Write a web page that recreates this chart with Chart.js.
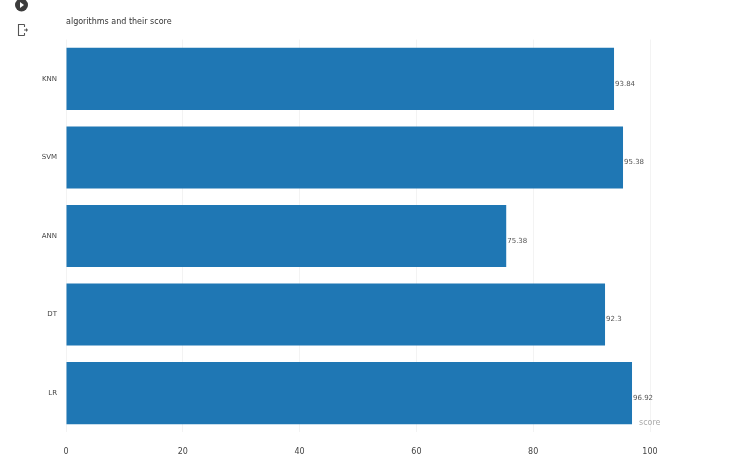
<!DOCTYPE html>
<html>
<head>
<meta charset="utf-8">
<title>algorithms and their score</title>
<script src="https://cdn.jsdelivr.net/npm/chart.js@4"></script>
<style>
    html, body { margin: 0; padding: 0; background: #fff; }
    .wrap { position: relative; width: 729px; height: 473px; overflow: hidden; }
    .icon { position: absolute; }
</style>
</head>
<body>
<div class="wrap">
    <!-- the two notebook icons in the left margin of the screenshot -->
    <svg class="icon" style="left:14px;top:0" width="16" height="14" viewBox="0 0 16 14">
        <circle cx="7.5" cy="5" r="6.5" fill="#3c3c3c"/>
        <path d="M6 2 L10 5 L6 8 Z" fill="#fff"/>
    </svg>
    <svg class="icon" style="left:17px;top:23px" width="13" height="14" viewBox="0 0 13 14">
        <path d="M7.5 1.5 H1.5 V12.5 H7.5 M7.5 1.5 V4 M7.5 10 V12.5" fill="none" stroke="#555" stroke-width="1.1"/>
        <path d="M7 7 H11 M9.5 5.5 V8.5" stroke="#555" stroke-width="1.1"/>
    </svg>
    <canvas id="scoreChart" width="729" height="473"></canvas>
</div>
<script>
const categories = ['KNN', 'SVM', 'ANN', 'DT', 'LR'];
const scores = [93.84, 95.38, 75.38, 92.3, 96.92];
const xTicks = [0, 20, 40, 60, 80, 100];

const textColor = '#444';
const fontFamily = '"DejaVu Sans", sans-serif';

// Draws the score next to each bar, plus the axis name tucked under the last one
const barLabels = {
    id: 'barLabels',
    afterDatasetsDraw(chart) {
        const c = chart.ctx;
        const bars = chart.getDatasetMeta(0).data;
        c.save();
        c.font = '7px ' + fontFamily;
        c.fillStyle = '#555';
        c.textBaseline = 'middle';
        bars.forEach((bar, i) => {
            c.fillText(scores[i], bar.x + 1, bar.y + 5);
        });
        c.font = '8px ' + fontFamily;
        c.fillStyle = '#aaa';
        c.fillText('score', chart.scales.x.right - 11, chart.chartArea.bottom - 9);
        c.restore();
    }
};

new Chart(document.getElementById('scoreChart'), {
    type: 'bar',
    plugins: [barLabels],
    data: {
        labels: categories,
        datasets: [{
            data: scores,
            backgroundColor: '#1f77b4',
            categoryPercentage: 0.79,
            barPercentage: 1
        }]
    },
    options: {
        indexAxis: 'y',
        responsive: false,
        animation: false,
        layout: { padding: { top: 17, right: 79, bottom: 1, left: 0 } },
        plugins: {
            legend: { display: false },
            tooltip: { enabled: false },
            title: {
                display: true,
                text: 'algorithms and their score',
                align: 'start',
                fullSize: false,
                color: '#333',
                font: { family: fontFamily, size: 8, weight: 'normal' },
                padding: { top: 0, bottom: 13 }
            }
        },
        scales: {
            x: {
                min: 0,
                max: 100,
                afterBuildTicks(axis) {
                    axis.ticks = xTicks.map(v => ({ value: v }));
                },
                grid: { color: '#f3f3f3', drawTicks: false },
                border: { display: false },
                ticks: {
                    color: textColor,
                    font: { family: fontFamily, size: 8 },
                    padding: 15,
                    maxRotation: 0
                }
            },
            y: {
                afterFit(axis) { axis.width = 66; },
                grid: { display: false, drawTicks: false },
                border: { display: false },
                ticks: {
                    color: textColor,
                    font: { family: fontFamily, size: 7 },
                    padding: 9
                }
            }
        }
    }
});
</script>
</body>
</html>
